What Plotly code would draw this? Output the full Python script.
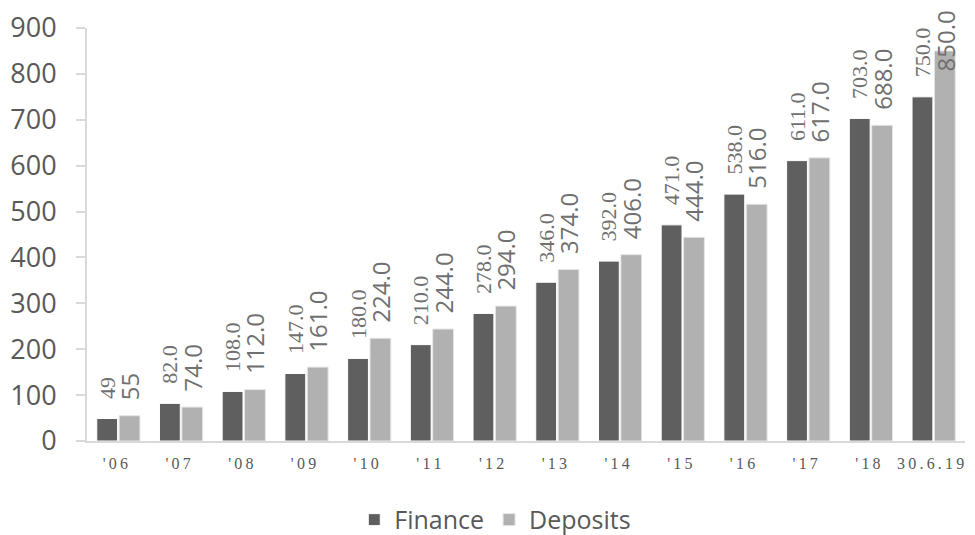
import plotly.graph_objects as go

categories = ["'06", "'07", "'08", "'09", "'10", "'11", "'12", "'13", "'14", "'15", "'16", "'17", "'18", "30.6.19"]
finance = [49, 82, 108, 147, 180, 210, 278, 346, 392, 471, 538, 611, 703, 750]
deposits = [55, 74, 112, 161, 224, 244, 294, 374, 406, 444, 516, 617, 688, 850]
finance_labels = ["49", "82.0", "108.0", "147.0", "180.0", "210.0", "278.0", "346.0", "392.0", "471.0", "538.0", "611.0", "703.0", "750.0"]
deposit_labels = ["55", "74.0", "112.0", "161.0", "224.0", "244.0", "294.0", "374.0", "406.0", "444.0", "516.0", "617.0", "688.0", "850.0"]
y_ticks = [0, 100, 200, 300, 400, 500, 600, 700, 800, 900]

LABEL_GREY = "#707070"
AXIS_GREY = "#d9d9d9"
TEXT_GREY = "#595959"


def spaced(s):
    return "\u2009".join(list(s))


tick_text = [spaced(c) for c in categories]
nb = "\u00a0"

# the last deposits label is drawn as an annotation (shifted down to stay on the page)
dep_text = [nb * 2 + t for t in deposit_labels[:-1]] + [""]

fig = go.Figure()
fig.add_trace(go.Bar(
    name="Finance", x=categories, y=finance,
    marker=dict(color="#5f5f5f", line=dict(color="#ffffff", width=1)),
    text=[nb * 3 + t for t in finance_labels], textposition="outside", textangle=-90,
    textfont=dict(family="Liberation Serif", size=22, color=LABEL_GREY),
    cliponaxis=False, constraintext="none",
))
fig.add_trace(go.Bar(
    name="Deposits", x=categories, y=deposits,
    marker=dict(color="#b1b1b1", line=dict(color="#e6e6e6", width=1)),
    text=dep_text, textposition="outside", textangle=-90,
    textfont=dict(family="Open Sans", size=24, color=LABEL_GREY),
    cliponaxis=False, constraintext="none",
))

fig.add_annotation(
    x=categories[-1], y=deposits[-1], xref="x", yref="y",
    text=deposit_labels[-1], showarrow=False, textangle=-90,
    xshift=11.3, yshift=-22, yanchor="bottom", xanchor="center",
    font=dict(family="Open Sans", size=24, color=LABEL_GREY),
)

fig.update_layout(
    width=959, height=527,
    margin=dict(l=79, r=2, t=20, b=94, autoexpand=False),
    plot_bgcolor="white", paper_bgcolor="white",
    barmode="group", bargap=0.286, bargroupgap=0.07,
    showlegend=True,
    legend=dict(orientation="h", x=0.465, xanchor="center", y=-0.191, yanchor="middle",
                font=dict(family="Open Sans", size=25, color=TEXT_GREY),
                traceorder="normal"),
    xaxis=dict(tickmode="array", tickvals=categories, ticktext=tick_text,
               tickfont=dict(family="Liberation Serif", size=16, color=TEXT_GREY),
               showline=True, linecolor=AXIS_GREY, linewidth=2, ticks="", showgrid=False,
               automargin=False, ticklabelstandoff=7, ticklabelshift=-3),
    yaxis=dict(range=[0, 900], tickvals=y_ticks,
               tickfont=dict(family="Open Sans", size=27, color=TEXT_GREY),
               showline=True, linecolor=AXIS_GREY, linewidth=2,
               ticks="outside", ticklen=9, tickcolor=AXIS_GREY, tickwidth=2,
               showgrid=False, zeroline=False, ticklabelstandoff=14, automargin=False),
)

fig.write_html("out.html")
